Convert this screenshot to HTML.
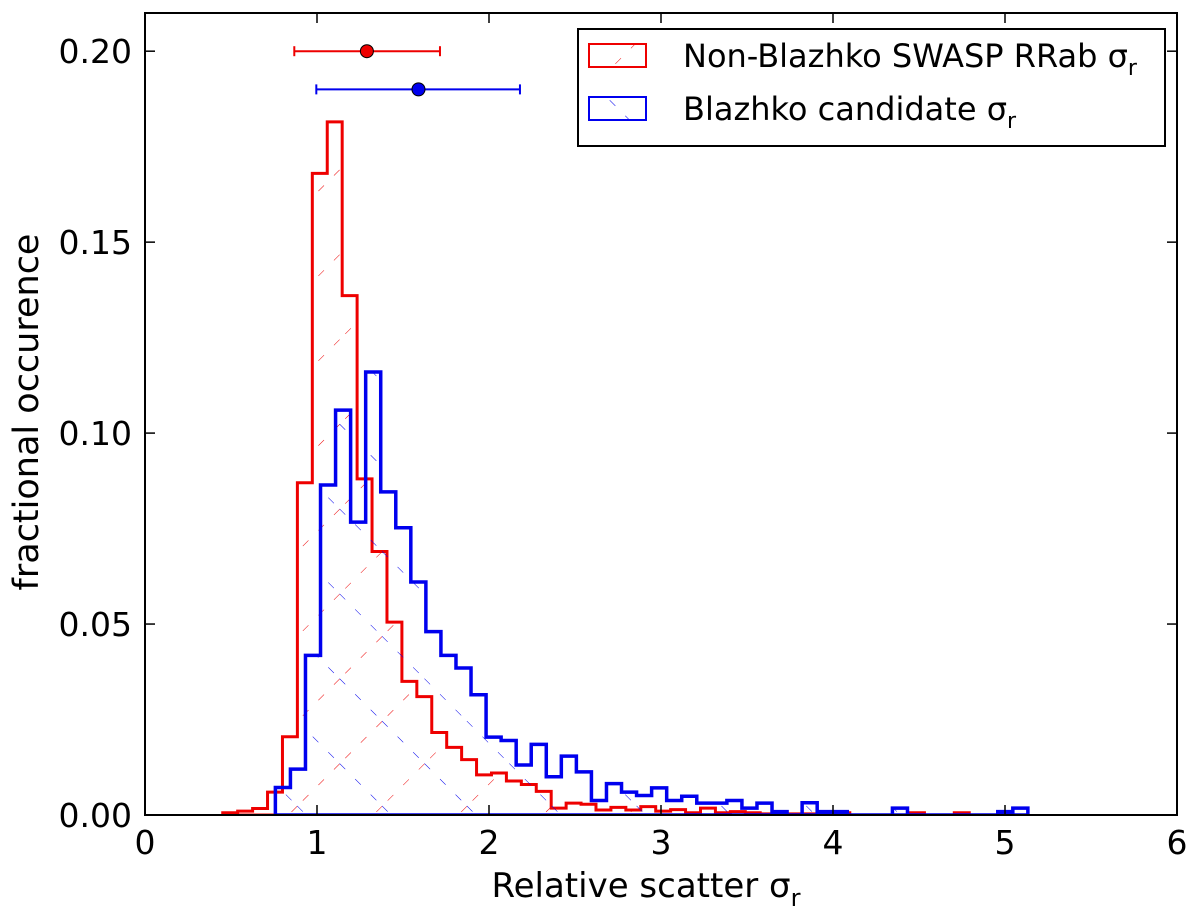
<!DOCTYPE html>
<html><head><meta charset="utf-8"><style>
html,body{margin:0;padding:0;background:#fff;}
svg{display:block;font-family:"DejaVu Sans","Liberation Sans",sans-serif;}
</style></head><body>
<svg id="chart" width="1200" height="922" viewBox="0 0 1200 922">
<defs>
<pattern id="hatchRed" patternUnits="userSpaceOnUse" width="60" height="60" patternTransform="rotate(45)">
<line x1="0" y1="0" x2="0" y2="60" stroke="#e00" stroke-width="1" stroke-dasharray="8 14"/>
</pattern>
<pattern id="hatchBlue" patternUnits="userSpaceOnUse" width="60" height="60" patternTransform="rotate(-45)">
<line x1="0" y1="0" x2="0" y2="60" stroke="#00e" stroke-width="1" stroke-dasharray="8 14"/>
</pattern>
<clipPath id="plotClip"><rect x="145" y="13" width="1032" height="802"/></clipPath>
</defs>
<g id="marks" clip-path="url(#plotClip)"></g>
<g id="axes"></g>
<text x="646" y="897" text-anchor="middle" font-size="34">Relative scatter σ<tspan font-size="24" dy="9">r</tspan></text>
<text transform="translate(38,412) rotate(-90)" text-anchor="middle" font-size="35">fractional occurence</text>
<g>
<rect x="578" y="29" width="587" height="117" fill="#fff" stroke="#000" stroke-width="2"/>
<rect x="589" y="44" width="57" height="23" fill="url(#hatchRed)" stroke="#e00" stroke-width="2"/>
<text x="683" y="67" font-size="32">Non-Blazhko SWASP RRab σ<tspan font-size="22" dy="8">r</tspan></text>
<rect x="589" y="97" width="57" height="23" fill="url(#hatchBlue)" stroke="#00e" stroke-width="2"/>
<text x="683" y="120" font-size="32">Blazhko candidate σ<tspan font-size="22" dy="8">r</tspan></text>
</g>
</svg>
<script>
const redStart = 0.452, redWidth = 0.0868;
const redValues = [0.0006,0.001,0.0017,0.006,0.0205,0.087,0.168,0.1815,0.136,0.088,0.069,0.0505,0.035,0.031,0.0216,0.0177,0.0145,0.0105,0.011,0.0089,0.008,0.0062,0.0018,0.0031,0.0028,0.0013,0.002,0.0013,0.0022,0.001,0.0014,0.0006,0.0018,0.0006,0.0009,0.0006,0.0003,0.0003,0.0003,0.0003,0.0003,0.0006,0,0,0,0,0.0006,0,0,0.0006];
const blueStart = 0.758, blueWidth = 0.0875;
const blueValues = [0.0072,0.012,0.0418,0.0864,0.106,0.0767,0.116,0.0846,0.0752,0.061,0.048,0.0418,0.0385,0.0315,0.0204,0.0195,0.0131,0.0185,0.010,0.0154,0.0113,0.0038,0.0082,0.006,0.0051,0.0071,0.0038,0.0049,0.0031,0.0031,0.0038,0.0018,0.0031,0.0009,0,0.0032,0.0009,0.0009,0,0,0,0.0018,0,0,0,0,0,0,0.0009,0.0018];
const xTicks = [0,1,2,3,4,5,6];
const xTickLabels = ["0","1","2","3","4","5","6"];
const yTicks = [0,0.05,0.10,0.15,0.20];
const yTickLabels = ["0.00","0.05","0.10","0.15","0.20"];
const redPoint = {x:1.29, y:0.200, lo:0.868, hi:1.715};
const bluePoint = {x:1.59, y:0.190, lo:0.996, hi:2.18};

const X0=145, X1=1177, Y0=815, Y1=13;
const xMin=0, xMax=6, yMin=0, yMax=0.21;
const xs = v => X0 + (v-xMin)/(xMax-xMin)*(X1-X0);
const ys = v => Y0 - (v-yMin)/(yMax-yMin)*(Y0-Y1);
const NS="http://www.w3.org/2000/svg";
const marks=document.getElementById('marks'), axes=document.getElementById('axes');
function mk(tag, attrs, parent){const e=document.createElementNS(NS,tag);for(const k in attrs)e.setAttribute(k,attrs[k]);parent.appendChild(e);return e;}

function histPath(start,w,vals){
  let d="M"+xs(start)+","+ys(0);
  vals.forEach((v,i)=>{const a=xs(start+i*w),b=xs(start+(i+1)*w);d+=" L"+a+","+ys(v)+" L"+b+","+ys(v);});
  d+=" L"+xs(start+vals.length*w)+","+ys(0)+" Z";
  return d;
}
const redHist = mk('path',{d:histPath(redStart,redWidth,redValues),fill:'url(#hatchRed)',stroke:'#e00','stroke-width':3,'stroke-linejoin':'miter'},marks);


const blueHist = mk('path',{d:histPath(blueStart,blueWidth,blueValues),fill:'url(#hatchBlue)',stroke:'#00e','stroke-width':3.5,'stroke-linejoin':'miter'},marks);



function errPoint(p,color,name){
  const g=mk('g',{},marks);
  
  
  mk('line',{x1:xs(p.lo),x2:xs(p.hi),y1:ys(p.y),y2:ys(p.y),stroke:color,'stroke-width':2},g);
  mk('line',{x1:xs(p.lo),x2:xs(p.lo),y1:ys(p.y)-5,y2:ys(p.y)+5,stroke:color,'stroke-width':2},g);
  mk('line',{x1:xs(p.hi),x2:xs(p.hi),y1:ys(p.y)-5,y2:ys(p.y)+5,stroke:color,'stroke-width':2},g);
  mk('circle',{cx:xs(p.x),cy:ys(p.y),r:6.5,fill:color,stroke:'#000','stroke-width':1},g);
}
errPoint(redPoint,'#e00','non-blazhko-mean-point');
errPoint(bluePoint,'#00e','blazhko-mean-point');

const frame=mk('rect',{x:X0,y:Y1,width:X1-X0,height:Y0-Y1,fill:'none',stroke:'#000','stroke-width':2},axes);


xTicks.forEach((t,i)=>{
  const x=xs(t);
  mk('line',{x1:x,x2:x,y1:Y0,y2:Y0-10,stroke:'#000','stroke-width':1.5},axes);
  mk('line',{x1:x,x2:x,y1:Y1,y2:Y1+10,stroke:'#000','stroke-width':1.5},axes);
  const tx=mk('text',{x:x,y:Y0+39,'text-anchor':'middle','font-size':33},axes);
  tx.textContent=xTickLabels[i];
  
  
});
yTicks.forEach((t,i)=>{
  const y=ys(t);
  mk('line',{x1:X0,x2:X0+10,y1:y,y2:y,stroke:'#000','stroke-width':1.5},axes);
  mk('line',{x1:X1,x2:X1-10,y1:y,y2:y,stroke:'#000','stroke-width':1.5},axes);
  const tx=mk('text',{x:X0-13,y:y+12,'text-anchor':'end','font-size':33},axes);
  tx.textContent=yTickLabels[i];
  
  
});
</script>
</body></html>
